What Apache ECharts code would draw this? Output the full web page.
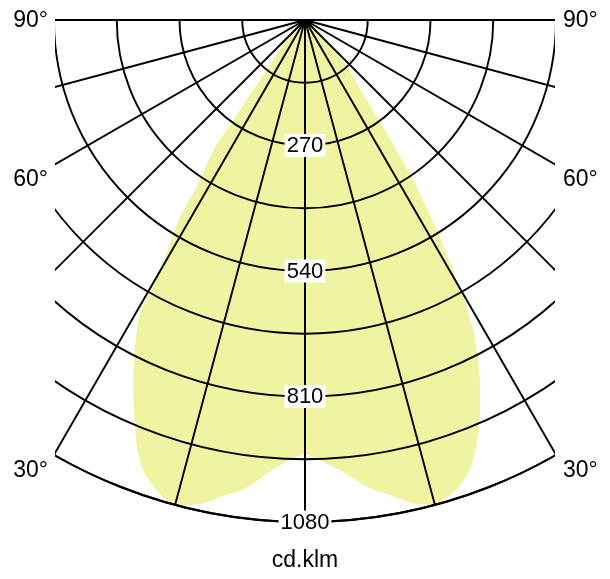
<!DOCTYPE html>
<html>
<head>
<meta charset="utf-8">
<script src="https://cdn.jsdelivr.net/npm/echarts@6/dist/echarts.min.js"></script>
<style>
  html, body { margin: 0; padding: 0; background: #fff; }
  #chart { width: 610px; height: 579px; }
</style>
</head>
<body>
<div id="chart"></div>
<script>
// luminous intensity, gamma in degrees from nadir
const leftGamma = [90, 65, 55, 49, 42.5, 37.5, 36.5, 35.6, 35.2, 33.0, 32.4, 30.7, 29.7, 29.4, 27.5, 25.5, 23.5, 21.5, 19.8, 18.0, 16.1, 14.6, 11.9, 9.4, 7.3, 4.1, 2.0, 0];
const leftCd = [0, 0, 12, 33, 58, 135, 195, 265, 342, 428, 502, 583, 661, 723, 793, 858, 923, 987, 1029, 1056, 1075, 1080, 1063, 1036, 1017, 970, 947, 934];
const rightGamma = [0, 2.0, 3.6, 4.4, 7.9, 10.1, 12.6, 15.0, 15.6, 17.9, 20.1, 21.9, 24.0, 25.9, 27.0, 28.5, 29.8, 30.3, 32.1, 34.4, 36.6, 41.8, 46, 55, 65, 90];
const rightCd = [934, 948, 963, 971, 1017, 1038, 1066, 1080, 1078, 1062, 1031, 989, 926, 861, 821, 759, 686, 647, 533, 400, 259, 135, 55, 15, 0, 0];

const radiusMax = 1080;
const radiusStep = 135;
const radiusLabels = [270, 540, 810, 1080];
const angleStep = 15;
const sideLabels = ['90°', '60°', '30°'];
const unitLabel = 'cd.klm';

const FONT = '"Liberation Sans", Arial, sans-serif';
const LINE = { color: '#000', width: 1.9 };

const curve = [];
leftGamma.forEach((g, i) => curve.push([leftCd[i], g]));
rightGamma.forEach((g, i) => curve.push([rightCd[i], 360 - g]));

const chart = echarts.init(document.getElementById('chart'));

const cx = 305, cy = 20, R = 502, half = 250;
const sideY = [21, 180, 471];
const masks = [
  { x: 0, y: 0, width: cx - half, height: 579 },
  { x: cx + half, y: 0, width: 610 - cx - half, height: 579 },
  { x: 0, y: 0, width: 610, height: cy - 1 }
].map(s => ({ type: 'rect', shape: s, style: { fill: '#fff' }, z: 100, silent: true }));

const texts = [];
sideLabels.forEach((t, i) => {
  texts.push({ type: 'text', x: cx - half - 7, y: sideY[i], z: 101,
    style: { text: t, fill: '#000', font: '23px ' + FONT, align: 'right', verticalAlign: 'middle' } });
  texts.push({ type: 'text', x: cx + half + 8, y: sideY[i], z: 101,
    style: { text: t, fill: '#000', font: '23px ' + FONT, align: 'left', verticalAlign: 'middle' } });
});
texts.push({ type: 'text', x: cx, y: 561, z: 101,
  style: { text: unitLabel, fill: '#000', font: '23px ' + FONT, align: 'center', verticalAlign: 'middle' } });

chart.setOption({
  animation: false,
  backgroundColor: '#fff',
  polar: { center: [cx, cy], radius: R },
  angleAxis: {
    type: 'value',
    min: 0,
    max: 360,
    interval: angleStep,
    startAngle: 270,
    clockwise: true,
    z: 5,
    axisLine: { show: true, lineStyle: LINE },
    axisTick: { show: false },
    axisLabel: { show: false },
    splitLine: { show: true, lineStyle: LINE }
  },
  radiusAxis: {
    type: 'value',
    min: 0,
    max: radiusMax,
    interval: radiusStep,
    z: 6,
    axisLine: { show: true, lineStyle: LINE },
    axisTick: { show: false },
    splitLine: { show: true, lineStyle: LINE },
    axisLabel: {
      show: true,
      margin: 0,
      showMinLabel: false,
      showMaxLabel: true,
      align: 'center',
      verticalAlign: 'middle',
      formatter: v => radiusLabels.includes(v) ? '{b|' + v + '}' : '',
      rich: {
        b: { fontSize: 22, fontFamily: FONT, color: '#000', backgroundColor: '#fff', padding: [1, 2, 0, 2] }
      }
    }
  },
  series: [{
    type: 'line',
    coordinateSystem: 'polar',
    data: curve,
    showSymbol: false,
    smooth: 0.2,
    z: 1,
    lineStyle: { width: 0 },
    areaStyle: { color: '#eff4a3', opacity: 1 }
  }],
  graphic: masks.concat(texts)
});
</script>
</body>
</html>
